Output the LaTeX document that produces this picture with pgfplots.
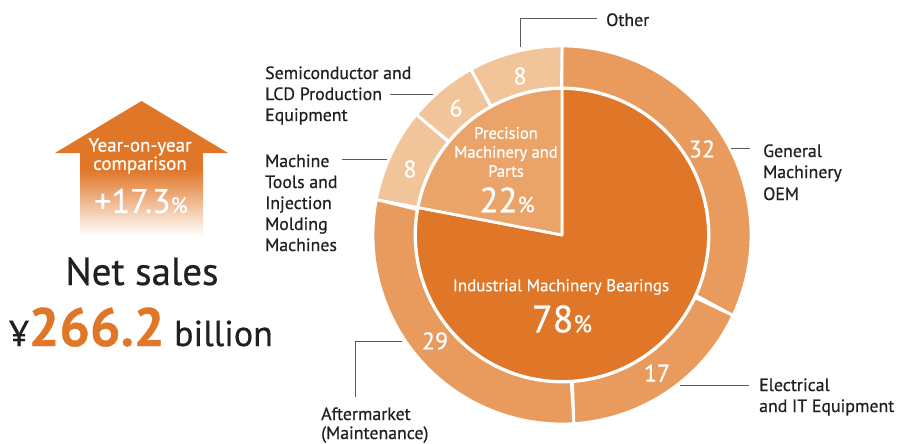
\documentclass[border=0pt]{standalone}
\usepackage{pgfplots}
\pgfplotsset{compat=1.18}
\usepackage{fontspec}
\setmainfont{PT Sans}[FakeBold=0.6]
\definecolor{dk}{HTML}{E07628}
\definecolor{md}{HTML}{E89B5D}
\definecolor{mp}{HTML}{EAA46A}
\definecolor{lt}{HTML}{F2C49A}
\definecolor{tx}{HTML}{231F20}
\definecolor{ld}{HTML}{5A5A5A}
% #1 start (percent), #2 value (percent), #3 inner r, #4 outer r, #5 colour
\newcommand{\seg}[5]{%
  \addplot[fill=#5, draw=white, line width=2.8pt, line join=round, domain=0:2, samples=241, variable=\t]
  ({562+ifthenelse(\t<=1.0001, #4*cos(90-3.6*(#1+#2*\t)), #3*cos(90-3.6*(#1+#2*(2-\t))))},
   {235-ifthenelse(\t<=1.0001, #4*sin(90-3.6*(#1+#2*\t)), #3*sin(90-3.6*(#1+#2*(2-\t))))}) -- cycle;}
\newcommand{\lab}[3]{\node[anchor=base west, inner sep=0pt, text=tx, font=\fontsize{17.8}{20}\selectfont] at (axis cs:#1,#2) {#3};}
\newcommand{\num}[3]{\node[inner sep=0pt, text=white, font=\fontsize{24}{24}\selectfont] at (axis cs:#1,#2) {#3};}
\begin{document}
\begin{tikzpicture}
\begin{axis}[width=906pt, height=444pt, scale only axis, hide axis, clip=false,
  xmin=0, xmax=906, ymin=0, ymax=444, y dir=reverse]
% inner pie: Industrial Machinery Bearings 78, Precision Machinery and Parts 22
\seg{0}{78}{0}{146.5}{dk}
\seg{78}{22}{0}{146.5}{mp}
% outer ring
\seg{0}{32}{147}{189}{md}
\seg{32}{17}{147}{189}{md}
\seg{49}{29}{147}{189}{md}
\seg{78}{8}{147}{189}{lt}
\seg{86}{6}{147}{189}{lt}
\seg{92}{8}{147}{189}{lt}
% ring numbers
\num{702}{149}{32}
\num{657}{373}{17}
\num{435}{341}{29}
\num{410}{169}{8}
\num{456}{108}{6}
\num{520}{76}{8}
% inner texts
\node[inner sep=0pt, text=white, align=center, font=\fontsize{16.5}{19}\selectfont] at (axis cs:506,152) {Precision\\Machinery and\\Parts};
\node[inner sep=0pt, text=white, font=\fontsize{35}{35}\selectfont] at (axis cs:507,200) {22{\fontsize{22}{22}\selectfont\%}};
\node[inner sep=0pt, text=white, font=\fontsize{17}{19}\selectfont] at (axis cs:561,287) {Industrial Machinery Bearings};
\node[inner sep=0pt, text=white, font=\fontsize{38}{38}\selectfont] at (axis cs:562,319) {78{\fontsize{24}{24}\selectfont\%}};
% leader lines
\draw[ld, line width=1pt] (axis cs:520.5,47) -- (axis cs:520.5,18.5) -- (axis cs:597,18.5);
\draw[ld, line width=1pt] (axis cs:390,95) -- (axis cs:433,95);
\draw[ld, line width=1pt] (axis cs:342,159) -- (axis cs:387,159);
\draw[ld, line width=1pt] (axis cs:731,148) -- (axis cs:750,148);
\draw[ld, line width=1pt] (axis cs:680,385) -- (axis cs:749,385);
\draw[ld, line width=1pt] (axis cs:402,341) -- (axis cs:355,341) -- (axis cs:355,397);
% labels
\lab{606}{26}{Other}
\lab{265}{79}{Semiconductor and}
\lab{265}{100}{LCD Production}
\lab{265}{121}{Equipment}
\lab{265}{167}{Machine}
\lab{265}{188}{Tools and}
\lab{265}{209}{Injection}
\lab{265}{230}{Molding}
\lab{265}{251}{Machines}
\lab{763}{157}{General}
\lab{763}{178}{Machinery}
\lab{763}{200}{OEM}
\lab{759}{391}{Electrical}
\lab{759}{412}{and IT Equipment}
\lab{321}{420}{Aftermarket}
\lab{321}{439}{(Maintenance)}
% arrow
\fill[dk] (axis cs:55,153) -- (axis cs:141.5,101) -- (axis cs:228,153) -- cycle;
\fill[dk] (axis cs:80,152.5) rectangle (axis cs:203,170);
\shade[top color=dk, bottom color=white] (axis cs:80,169.5) rectangle (axis cs:203,236);
\node[inner sep=0pt, text=white, align=center, font=\fontsize{19}{15.5}\selectfont] at (axis cs:140,156) {Year-on-year\\comparison};
\node[inner sep=0pt, text=white, font=\fontsize{34}{34}\selectfont] at (axis cs:141,201) {+17.3{\fontsize{22}{22}\selectfont\%}};
\node[anchor=base, inner sep=0pt, text=tx, font=\fontsize{39}{39}\selectfont] at (axis cs:142,285) {Net sales};
\node[anchor=base, inner sep=0pt, text=tx, font=\fontsize{36}{36}\selectfont] at (axis cs:141,346) {¥{\fontsize{54}{54}\selectfont\bfseries\color{dk}266.2} billion};
\end{axis}
\pgfresetboundingbox
\useasboundingbox (0,0) rectangle (906pt,444pt);
\end{tikzpicture}
\end{document}
